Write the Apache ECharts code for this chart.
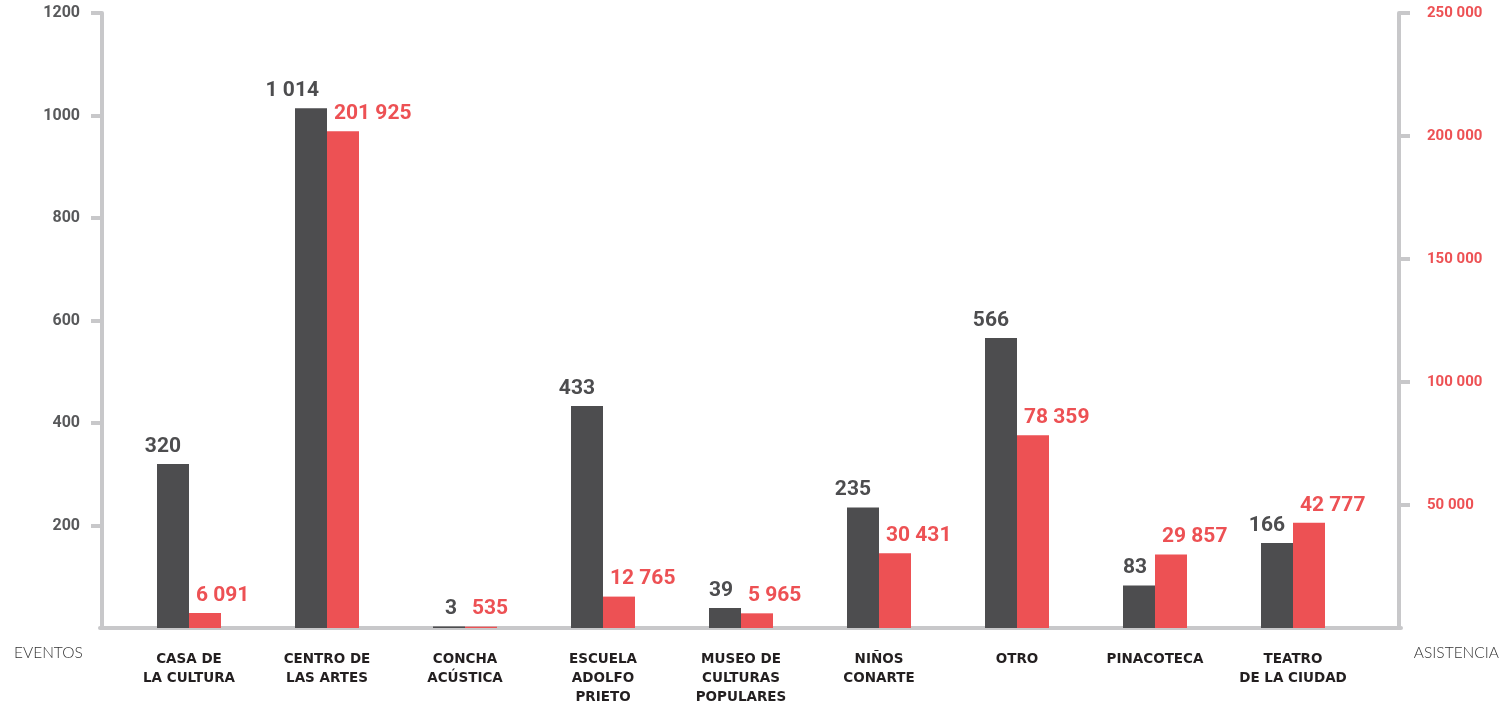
<!DOCTYPE html>
<html><head><meta charset="utf-8">
<script src="https://cdn.jsdelivr.net/npm/echarts@6/dist/echarts.min.js"></script>
<style>html,body{margin:0;padding:0;background:#fff}#c{width:1505px;height:703px}</style>
</head><body><div id="c"></div>
<script>
const categories = ['CASA DE\nLA CULTURA','CENTRO DE\nLAS ARTES','CONCHA\nACÚSTICA','ESCUELA\nADOLFO\nPRIETO','MUSEO DE\nCULTURAS\nPOPULARES','NIÑOS\nCONARTE','OTRO','PINACOTECA','TEATRO\nDE LA CIUDAD'];
const eventos = [320, 1014, 3, 433, 39, 235, 566, 83, 166];
const asistencia = [6091, 201925, 535, 12765, 5965, 30431, 78359, 29857, 42777];
const leftTicks = [200, 400, 600, 800, 1000, 1200];
const rightTicks = [50000, 100000, 150000, 200000, 250000];

const GRAY = '#4d4d4f', RED = '#ed5154', AXIS = '#c8c8ca';
const fmt = v => String(v).replace(/\B(?=(\d{3})+(?!\d))/g, ' ');
const chart = echarts.init(document.getElementById('c'));
chart.setOption({
  animation: false,
  grid: [
    {left: 120, right: 143, top: 13, bottom: 75, outerBoundsMode: 'none', containLabel: false},
    {left: 100, right: 104, top: 13, bottom: 75, outerBoundsMode: 'none', containLabel: false}
  ],
  xAxis: [
    {type: 'category', gridIndex: 0, data: categories,
     axisLine: {show: false}, axisTick: {show: false},
     axisLabel: {interval: 0, hideOverlap: false, margin: 22, color: '#231f20', fontFamily: 'DejaVu Sans', fontWeight: 'bold', fontSize: 13.5, lineHeight: 19, align: 'center'}},
    {type: 'value', gridIndex: 1, min: 0, max: 1,
     axisLine: {show: true, lineStyle: {color: AXIS, width: 4}},
     axisTick: {show: false}, axisLabel: {show: false}, splitLine: {show: false}}
  ],
  yAxis: [
    {type: 'value', gridIndex: 0, position: 'left', offset: 18, min: 0, max: 1200, interval: 200,
     axisLine: {show: true, lineStyle: {color: AXIS, width: 4}},
     axisTick: {show: true, length: 11, lineStyle: {color: AXIS, width: 4}, customValues: leftTicks},
     axisLabel: {margin: 22, color: '#58595b', fontFamily: 'Roboto', fontWeight: 'bold', fontSize: 16, customValues: leftTicks, formatter: v => String(v)},
     splitLine: {show: false}},
    {type: 'value', gridIndex: 0, position: 'right', offset: 37, min: 0, max: 250000, interval: 50000,
     axisLine: {show: true, lineStyle: {color: AXIS, width: 4}},
     axisTick: {show: true, length: 11, lineStyle: {color: AXIS, width: 4}, customValues: rightTicks},
     axisLabel: {margin: 28, color: RED, fontFamily: 'Roboto', fontWeight: 'bold', fontSize: 15, customValues: rightTicks, formatter: v => fmt(v)},
     splitLine: {show: false}},
    {type: 'value', gridIndex: 1, show: false, min: 0, max: 1}
  ],
  series: [
    {type: 'bar', name: 'Eventos', xAxisIndex: 0, yAxisIndex: 0, data: eventos, barWidth: 32, barGap: '0%',
     itemStyle: {color: GRAY},
     label: {show: true, position: 'top', distance: 7, align: 'right', offset: [8, 0], color: GRAY,
             fontFamily: 'Roboto', fontWeight: 'bold', fontSize: 21, formatter: p => fmt(p.value)}},
    {type: 'bar', name: 'Asistencia', xAxisIndex: 0, yAxisIndex: 1, data: asistencia, barWidth: 32, barGap: '0%',
     itemStyle: {color: RED},
     label: {show: true, position: 'top', distance: 7, align: 'left', offset: [-9, 0], color: RED,
             fontFamily: 'Roboto', fontWeight: 'bold', fontSize: 21, formatter: p => fmt(p.value)}}
  ],
  graphic: [
    {type: 'text', left: 14, top: 645, style: {text: 'EVENTOS', fill: '#333', font: '300 15.5px Lato'}},
    {type: 'text', right: 6, top: 645, style: {text: 'ASISTENCIA', fill: '#333', font: '300 15.5px Lato'}}
  ]
});
</script></body></html>
